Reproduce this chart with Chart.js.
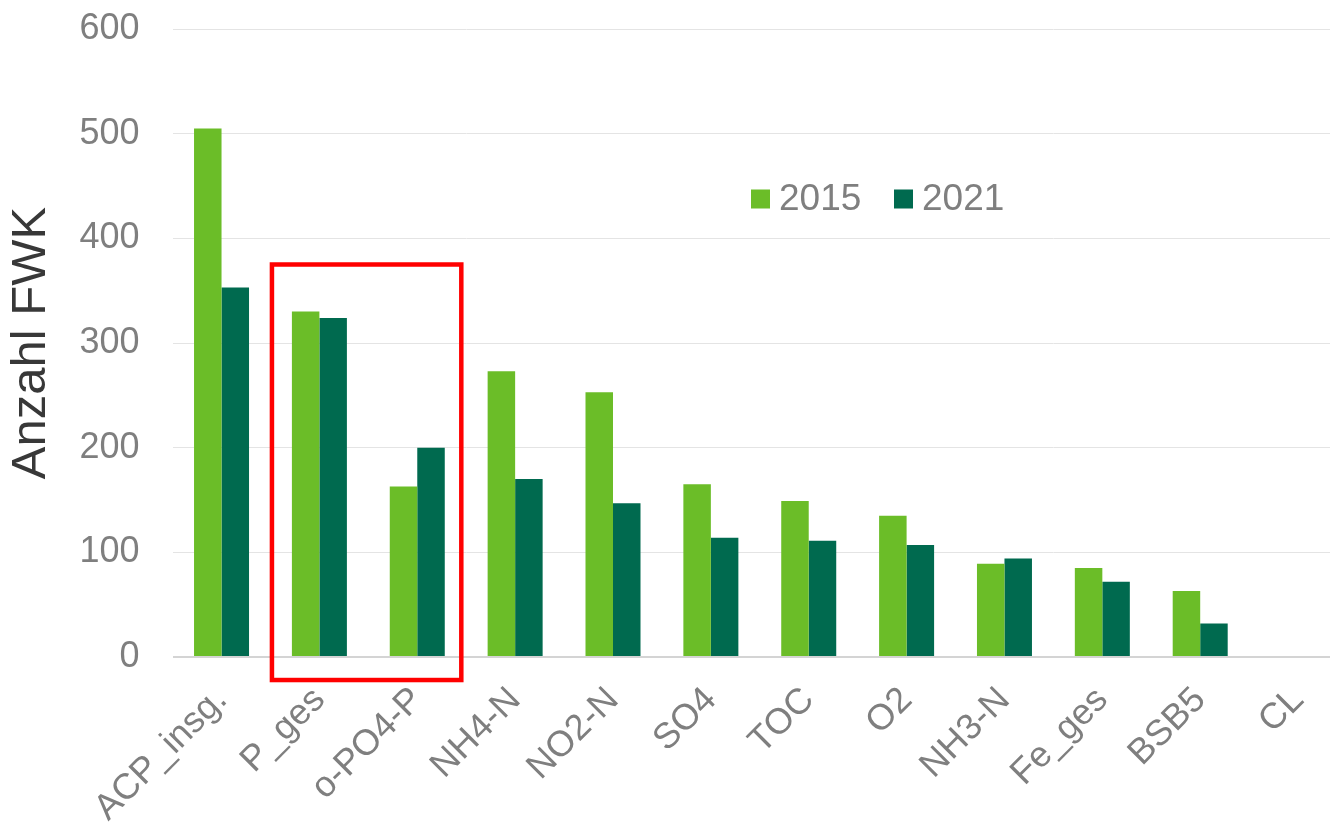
<!DOCTYPE html>
<html>
<head>
<meta charset="utf-8">
<script src="https://cdn.jsdelivr.net/npm/chart.js@4"></script>
<style>
  html, body { margin: 0; padding: 0; background: #fff; overflow: hidden; width: 1330px; height: 829px; }
  #wrap { width: 1347px; height: 829px; position: relative; }
</style>
</head>
<body>
<div id="wrap"><canvas id="chart"></canvas></div>
<script>
// Anzahl FWK je Parameter
const categories = ['ACP_insg.', 'P_ges', 'o-PO4-P', 'NH4-N', 'NO2-N', 'SO4', 'TOC', 'O2', 'NH3-N', 'Fe_ges', 'BSB5', 'CL'];
const values2015 = [505, 330, 163, 273, 253, 165, 149, 135, 89, 85, 63, 1];
const values2021 = [353, 324, 200, 170, 147, 114, 111, 107, 94, 72, 32, 1];
const yTicks = [0, 100, 200, 300, 400, 500, 600];

const FONT = "'Liberation Sans', Arial, sans-serif";
const GREY = '#7f7f7f';

// red frame round P_ges and o-PO4-P, plus legend inside the plot
const overlay = {
    id: 'overlay',
    afterDraw(chart) {
        const { ctx, scales: { x, y } } = chart;
        const cw = x.getPixelForValue(1) - x.getPixelForValue(0);
        const left = x.getPixelForValue(1) - 0.485 * cw;
        const right = x.getPixelForValue(2) + 0.45 * cw;
        const top = y.getPixelForValue(375);
        const bottom = y.getPixelForValue(-22);
        ctx.save();
        ctx.strokeStyle = '#ff0000';
        ctx.lineWidth = 4.5;
        ctx.strokeRect(left, top, right - left, bottom - top);

        // legend
        ctx.font = `37px ${FONT}`;
        ctx.textBaseline = 'middle';
        let lx = 751;
        const ly = 199;
        chart.data.datasets.forEach(ds => {
            ctx.fillStyle = ds.backgroundColor;
            ctx.fillRect(lx, ly - 9.5, 19, 19);
            ctx.fillStyle = GREY;
            ctx.fillText(ds.label, lx + 28, ly + 1);
            lx += 143;
        });
        ctx.restore();
    }
};

new Chart(document.getElementById('chart'), {
    type: 'bar',
    data: {
        labels: categories,
        datasets: [
            { label: '2015', data: values2015, backgroundColor: '#6bbd28' },
            { label: '2021', data: values2021, backgroundColor: '#006a4f' }
        ]
    },
    options: {
        responsive: true,
        maintainAspectRatio: false,
        animation: false,
        categoryPercentage: 0.562,
        barPercentage: 1,
        layout: { padding: { top: 29, right: 0, bottom: 0, left: 0 } },
        plugins: { legend: { display: false }, tooltip: { enabled: false } },
        scales: {
            x: {
                grid: { display: false },
                border: { display: false },
                ticks: {
                    color: GREY,
                    font: { family: FONT, size: 36 },
                    maxRotation: 45,
                    minRotation: 45,
                    padding: 14,
                    autoSkip: false
                },
                afterFit: s => { s.height = 172; }
            },
            y: {
                min: 0,
                max: 600,
                afterBuildTicks: s => { s.ticks = yTicks.map(v => ({ value: v })); },
                grid: {
                    drawTicks: false,
                    color: c => c.tick && c.tick.value === 0 ? '#d4d4d4' : '#e4e4e4',
                    lineWidth: c => c.tick && c.tick.value === 0 ? 2 : 1
                },
                border: { display: false },
                ticks: {
                    color: GREY,
                    font: { family: FONT, size: 36 },
                    padding: 33
                },
                title: {
                    display: true,
                    text: 'Anzahl FWK',
                    color: '#383838',
                    font: { family: FONT, size: 49 },
                    padding: { top: 2, bottom: 0 }
                },
                afterFit: s => {
                    s.width = 172.6;
                    s.paddingTop = 0;
                    s.paddingBottom = 0;
                }
            }
        }
    },
    plugins: [overlay]
});
</script>
</body>
</html>
